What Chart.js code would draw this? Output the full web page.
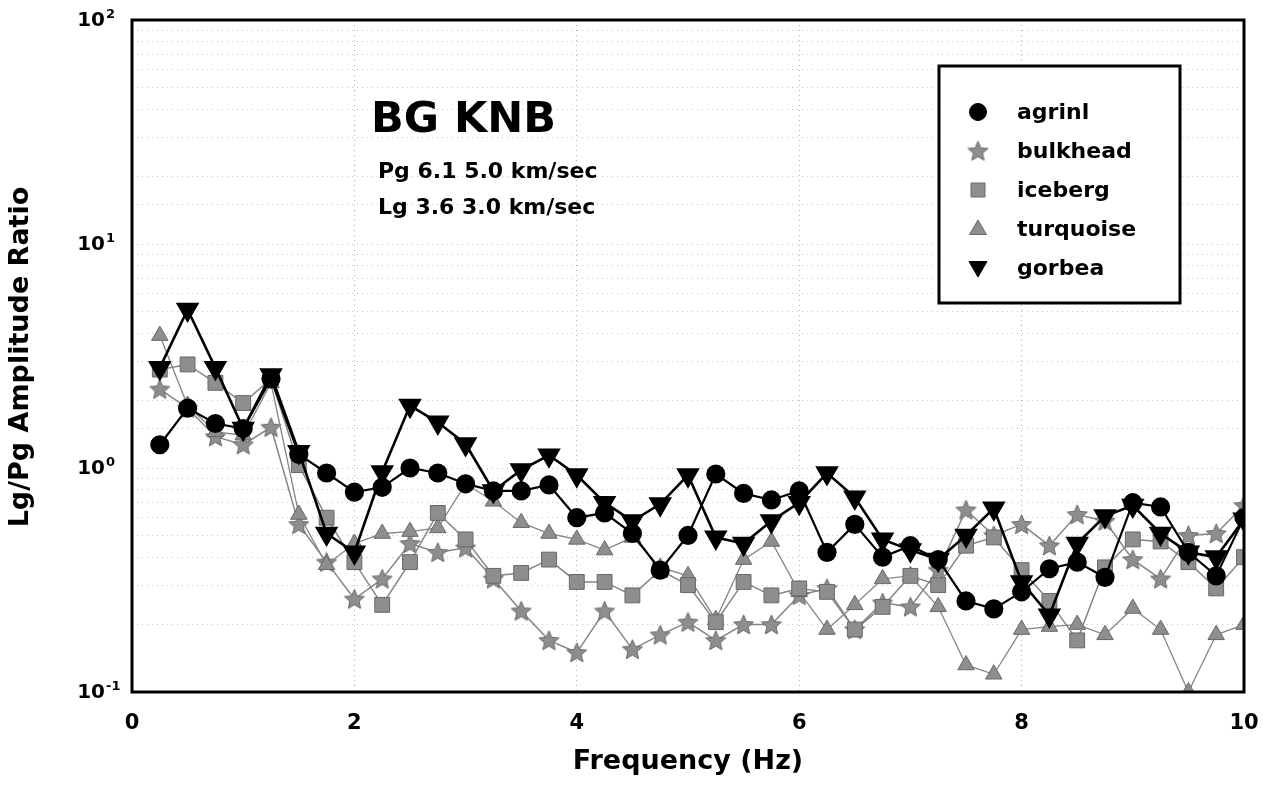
<!DOCTYPE html>
<html><head><meta charset="utf-8">
<script src="https://cdn.jsdelivr.net/npm/chart.js@4.4.1/dist/chart.umd.min.js"></script>
<style>html,body{margin:0;padding:0;background:#fff;overflow:hidden}</style>
</head><body>
<canvas id="c" width="1268" height="786" style="width:1268px;height:786px;display:block"></canvas>
<script>
const freqs = [0.25,0.5,0.75,1,1.25,1.5,1.75,2,2.25,2.5,2.75,3,3.25,3.5,3.75,4,4.25,4.5,4.75,5,5.25,5.5,5.75,6,6.25,6.5,6.75,7,7.25,7.5,7.75,8,8.25,8.5,8.75,9,9.25,9.5,9.75,10];
const agrinl   = [1.27,1.85,1.58,1.5,2.5,1.15,0.95,0.78,0.82,1.0,0.95,0.85,0.79,0.79,0.84,0.6,0.63,0.51,0.35,0.5,0.94,0.77,0.72,0.79,0.42,0.56,0.4,0.45,0.39,0.255,0.235,0.28,0.355,0.38,0.325,0.7,0.67,0.42,0.33,0.6];
const bulkhead = [2.25,1.85,1.38,1.27,1.52,0.56,0.38,0.26,0.32,0.46,0.42,0.44,0.32,0.23,0.17,0.15,0.23,0.155,0.18,0.205,0.17,0.2,0.2,0.27,0.29,0.19,0.25,0.24,0.35,0.65,0.5,0.56,0.45,0.62,0.58,0.39,0.32,0.5,0.51,0.68];
const iceberg  = [2.75,2.9,2.4,1.95,2.5,1.03,0.6,0.38,0.245,0.38,0.63,0.48,0.33,0.34,0.39,0.31,0.31,0.27,0.35,0.3,0.205,0.31,0.27,0.29,0.28,0.19,0.24,0.33,0.3,0.45,0.49,0.35,0.255,0.17,0.36,0.48,0.47,0.38,0.29,0.4];
const turquoise= [3.9,1.9,1.45,1.4,2.4,0.62,0.37,0.46,0.51,0.52,0.54,0.85,0.71,0.57,0.51,0.48,0.43,0.49,0.36,0.33,0.21,0.39,0.47,0.28,0.19,0.245,0.32,0.33,0.24,0.132,0.12,0.19,0.196,0.2,0.18,0.236,0.19,0.1,0.18,0.2];
const gorbea   = [2.8,5.1,2.8,1.5,2.6,1.18,0.51,0.42,0.96,1.9,1.6,1.28,0.79,0.98,1.14,0.93,0.7,0.58,0.69,0.93,0.49,0.46,0.58,0.7,0.95,0.74,0.48,0.43,0.39,0.5,0.66,0.31,0.22,0.46,0.61,0.68,0.51,0.42,0.4,0.59];
const seriesNames = ['agrinl','bulkhead','iceberg','turquoise','gorbea'];
const yTickValues = [0.1,1,10,100];
const yTickExponents = ['-1','0','1','2'];
const xTickValues = [0,2,4,6,8,10];
const titleLines = ['BG KNB','Pg 6.1 5.0 km/sec','Lg 3.6 3.0 km/sec'];
const xTitle = 'Frequency (Hz)';
const yTitle = 'Lg/Pg Amplitude Ratio';

const FONT = "'DejaVu Sans', 'Liberation Sans', Arial, sans-serif";
const GRAY = '#8e8e8e', GRAYLINE = '#858585', GRAYEDGE = '#686868';

function makeStar(size){
  const c=document.createElement('canvas'); c.width=c.height=size;
  const g=c.getContext('2d'); const cx=size/2, cy=size/2+0.8, R=size/2-1, r=R*0.46;
  g.beginPath();
  for(let i=0;i<10;i++){const a=-Math.PI/2+i*Math.PI/5; const rr=i%2?r:R; g.lineTo(cx+rr*Math.cos(a), cy+rr*Math.sin(a));}
  g.closePath(); g.fillStyle=GRAY; g.fill(); g.strokeStyle=GRAYEDGE; g.lineWidth=1; g.stroke();
  return c;
}
const starImg = makeStar(23);

const pts = vals => freqs.map((f,i)=>({x:f,y:vals[i]}));
const styles = {
  agrinl:   {borderColor:'#000', borderWidth:2.2, pointStyle:'circle', pointRadius:8.5, pointBackgroundColor:'#000', pointBorderColor:'#000', order:1},
  bulkhead: {borderColor:GRAYLINE, borderWidth:1.5, pointStyle:starImg, pointRadius:10, order:4},
  iceberg:  {borderColor:GRAYLINE, borderWidth:1.5, pointStyle:'rect', pointRadius:10.5, pointBackgroundColor:GRAY, pointBorderColor:GRAYEDGE, pointBorderWidth:1, order:2},
  turquoise:{borderColor:GRAYLINE, borderWidth:1.3, pointStyle:'triangle', pointRadius:9.5, pointBackgroundColor:GRAY, pointBorderColor:GRAYEDGE, pointBorderWidth:1, order:3},
  gorbea:   {borderColor:'#000', borderWidth:2.6, pointStyle:'triangle', pointRotation:180, pointRadius:11, pointBackgroundColor:'#000', pointBorderColor:'#000', order:0}
};
const seriesData = {agrinl, bulkhead, iceberg, turquoise, gorbea};
const datasets = seriesNames.map(n => Object.assign({label:n, data:pts(seriesData[n]), tension:0, fill:false}, styles[n]));

function drawMarker(ctx, name, x, y){
  const s = styles[name];
  ctx.save();
  if (name==='bulkhead'){ ctx.drawImage(starImg, x-11.5, y-11.5); ctx.restore(); return; }
  ctx.fillStyle = s.pointBackgroundColor; ctx.strokeStyle = s.pointBorderColor; ctx.lineWidth=1;
  ctx.beginPath();
  if (name==='agrinl'){ ctx.arc(x,y,8.5,0,Math.PI*2); }
  else if (name==='iceberg'){ ctx.rect(x-7,y-7,14,14); }
  else if (name==='turquoise'){ ctx.moveTo(x,y-9); ctx.lineTo(x+8.5,y+5.5); ctx.lineTo(x-8.5,y+5.5); ctx.closePath(); }
  else if (name==='gorbea'){ ctx.moveTo(x,y+9); ctx.lineTo(x+9,y-6.5); ctx.lineTo(x-9,y-6.5); ctx.closePath(); }
  ctx.fill(); ctx.stroke(); ctx.restore();
}

const decor = {
  id:'decor',
  afterDatasetsDraw(chart){
    const {ctx, chartArea:a, scales} = chart;
    ctx.save();
    // frame
    ctx.strokeStyle='#000'; ctx.lineWidth=3;
    ctx.strokeRect(a.left, a.top, a.right-a.left, a.bottom-a.top);
    // y tick labels with superscripts
    ctx.fillStyle='#000';
    yTickValues.forEach((v,i)=>{
      const y = scales.y.getPixelForValue(v);
      ctx.font = `bold 20px ${FONT}`; ctx.textAlign='right'; ctx.textBaseline='middle';
      ctx.fillText('10', 105, y+1);
      ctx.font = `bold 13px ${FONT}`; ctx.textAlign='left'; ctx.textBaseline='alphabetic';
      ctx.fillText(yTickExponents[i], 106, y-2);
    });
    // annotation text
    ctx.textAlign='left'; ctx.textBaseline='alphabetic';
    ctx.font = `bold 43px ${FONT}`;
    ctx.fillText(titleLines[0], 371, 132);
    ctx.font = `bold 22px ${FONT}`;
    ctx.fillText(titleLines[1], 378, 178);
    ctx.fillText(titleLines[2], 378, 214);
    // legend
    ctx.fillStyle='#fff'; ctx.fillRect(939,66,241,237);
    ctx.strokeStyle='#000'; ctx.lineWidth=3; ctx.strokeRect(939,66,241,237);
    seriesNames.forEach((n,i)=>{
      const y = 112 + i*39;
      drawMarker(ctx, n, 978, y);
      ctx.fillStyle='#000'; ctx.font=`bold 22px ${FONT}`; ctx.textAlign='left'; ctx.textBaseline='middle';
      ctx.fillText(n, 1017, y+1);
    });
    // axis titles
    ctx.font = `bold 27px ${FONT}`; ctx.textAlign='center'; ctx.textBaseline='middle';
    ctx.fillText(xTitle, 688, 762);
    ctx.translate(21, 357); ctx.rotate(-Math.PI/2);
    ctx.fillText(yTitle, 0, 0);
    ctx.restore();
  }
};

new Chart(document.getElementById('c'), {
  type:'line',
  data:{datasets},
  options:{
    responsive:false, animation:false, devicePixelRatio:1,
    layout:{padding:{top:20,right:24,left:0,bottom:0}},
    plugins:{legend:{display:false}, tooltip:{enabled:false}},
    scales:{
      x:{type:'linear', min:0, max:10,
         afterBuildTicks(s){ s.ticks = xTickValues.map(v=>({value:v})); },
         afterFit(s){ s.height = 94; s.paddingRight = 0; s.paddingLeft = 0; },
         ticks:{color:'#000', padding:19, font:{family:FONT, size:21, weight:'bold'}},
         grid:{color:'#b0b0b0', lineWidth:1, drawTicks:false},
         border:{display:false, dash:[1,4]}},
      y:{type:'logarithmic', min:0.1, max:100,
         afterFit(s){ s.width = 132; s.paddingTop = 0; s.paddingBottom = 0; },
         ticks:{display:false},
         grid:{color:'#c4c4c4', lineWidth:1, drawTicks:false},
         border:{display:false, dash:[1,4]}}
    }
  },
  plugins:[decor]
});
</script>
</body></html>
